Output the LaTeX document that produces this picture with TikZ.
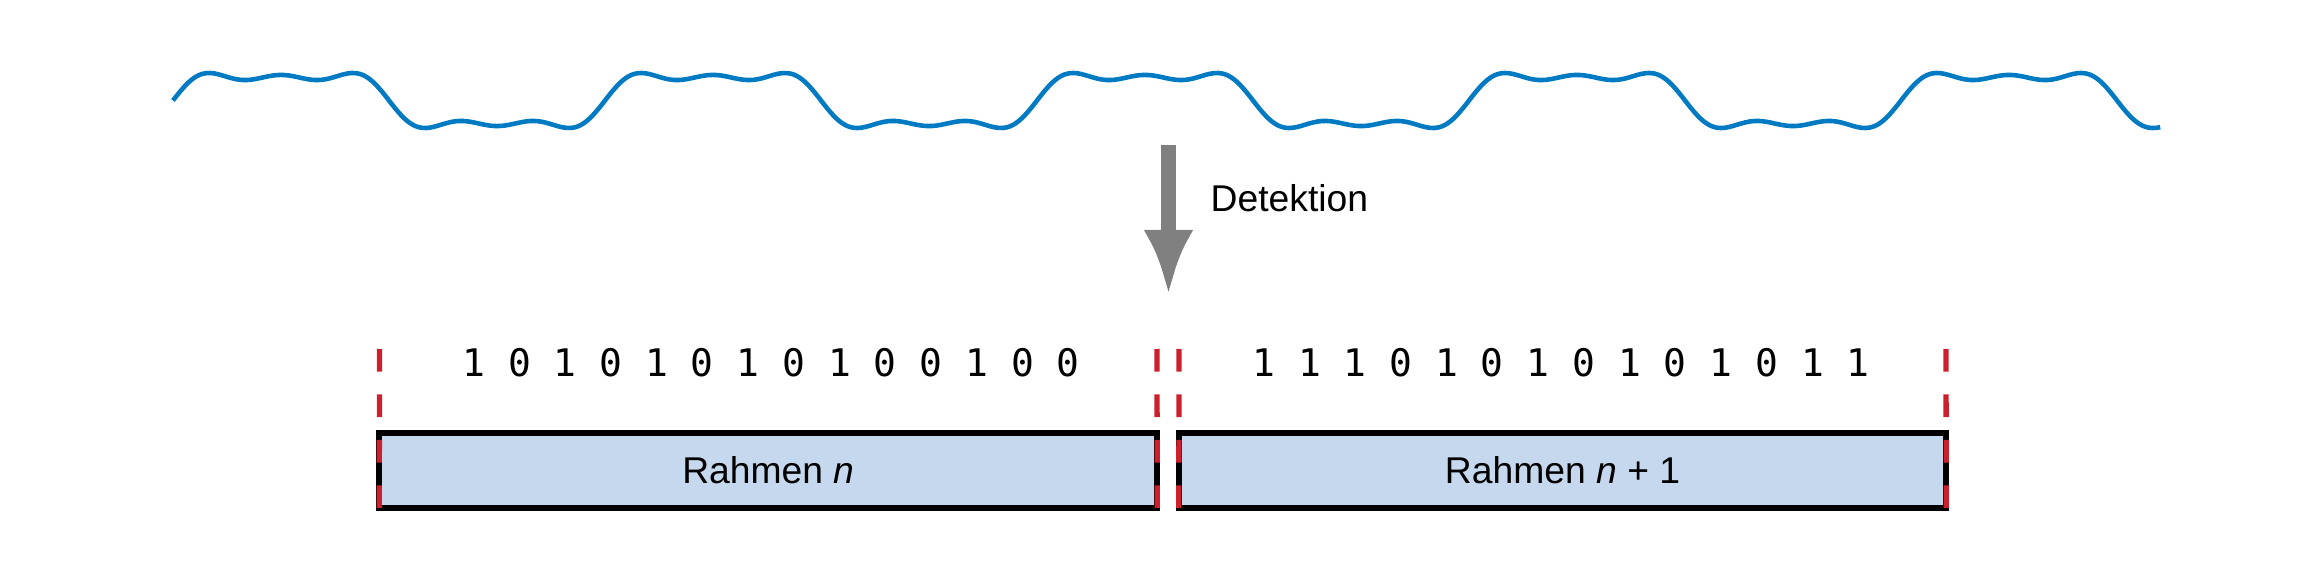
\documentclass[tikz,border=0pt]{standalone}
\usepackage{fontspec}
\setmainfont{Liberation Sans}
\newfontfamily\bitfont{DejaVu Sans Mono}
\usepackage{tikz}
\usetikzlibrary{arrows.meta}

\definecolor{wavecol}{RGB}{0,122,194}
\definecolor{cutcol}{RGB}{204,33,44}
\definecolor{framecol}{RGB}{198,216,238}
\definecolor{arrowcol}{RGB}{128,128,128}

\begin{document}
\begin{tikzpicture}[x=0.01cm,y=-0.01cm,
  font=\fontsize{10.6}{12.7}\selectfont,
  wave/.style={draw=wavecol,line width=1.3pt,line join=round},
  detarrow/.style={draw=arrowcol,line width=0.15cm,-{Latex[length=0.65cm,width=0.5cm]}},
  bits/.style={font=\bitfont\fontsize{10.8}{13}\selectfont,inner sep=0pt},
  frame/.style={draw=black,fill=framecol,line width=1.6pt,outer sep=0pt,inner sep=0pt,minimum height=0.75cm},
  cut/.style={draw=cutcol,line width=1.5pt,dash pattern=on 0.227cm off 0.227cm}]

\useasboundingbox (0,0) rectangle (2298,561);

\draw[wave] plot[domain=0:1656,samples=480,smooth]
  ({173+1.2*\x},{100.5-29.5*(sin(\x)+sin(3*\x)/3+sin(5*\x)/5)});

\coordinate (dettop) at (1168.5,145);
\coordinate (dettip) at (1168.5,295);
\draw[detarrow] (dettop) -- (dettip);
\node[anchor=base west,inner sep=0pt] (det) at (1210,212) {Detektion};

\node[bits] (bitsn)    at (771,362.5)  {1 0 1 0 1 0 1 0 1 0 0 1 0 0};
\node[bits] (bitsnext) at (1561,362.5) {1 1 1 0 1 0 1 0 1 0 1 0 1 1};

\node[frame,minimum width=7.775cm] (rahmenn)    at (768.25,470.5) {Rahmen \textit{n}};
\node[frame,minimum width=7.67cm]  (rahmennext) at (1562.5,470.5) {Rahmen \textit{n} + 1};

\coordinate (cuta) at (379.5,349);
\coordinate (cutb) at (1157,349);
\coordinate (cutc) at (1179,349);
\coordinate (cutd) at (1946,349);

\draw[cut] (cuta) -- (rahmenn.south west);
\draw[cut] (cutb) -- (rahmenn.south east);
\draw[cut] (cutc) -- (rahmennext.south west);
\draw[cut] (cutd) -- (rahmennext.south east);

\end{tikzpicture}
\end{document}
